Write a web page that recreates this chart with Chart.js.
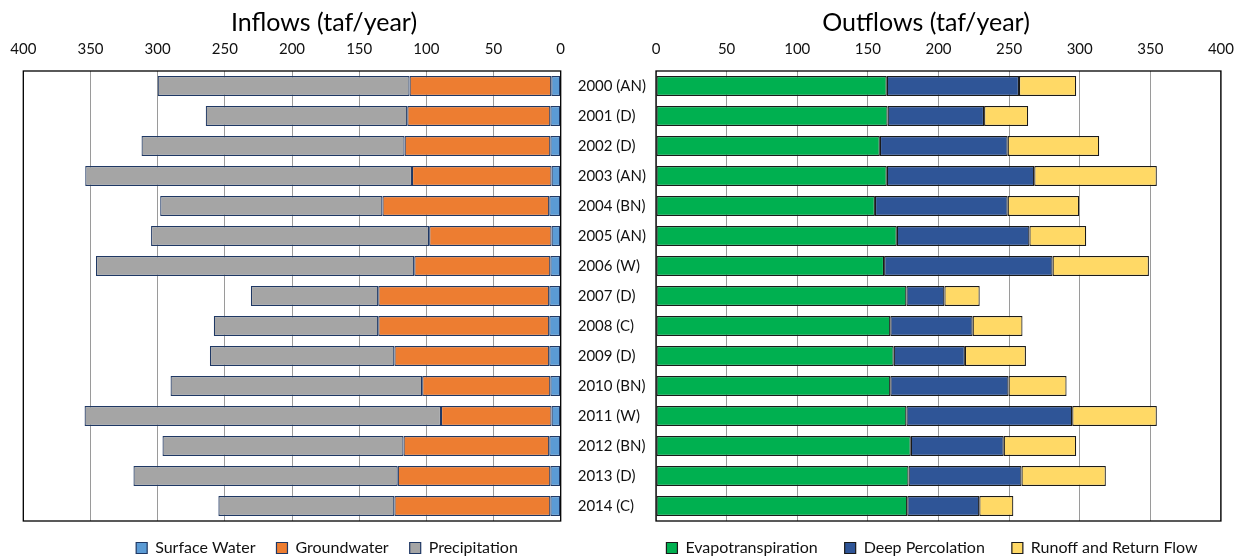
<!DOCTYPE html>
<html>
<head>
<meta charset="utf-8">
<script src="https://cdn.jsdelivr.net/npm/chart.js@4.4.1/dist/chart.umd.min.js"></script>
<style>
  html, body { margin: 0; padding: 0; background: #fff; }
  #wrap { position: relative; width: 1247px; height: 560px; }
  canvas { position: absolute; top: 0; }
  #inflows { left: 0; }
  #outflows { left: 600px; }
</style>
</head>
<body>
<div id="wrap">
  <canvas id="inflows" width="650" height="560"></canvas>
  <canvas id="outflows" width="647" height="560"></canvas>
</div>
<script>
const years = ['2000 (AN)', '2001 (D)', '2002 (D)', '2003 (AN)', '2004 (BN)', '2005 (AN)', '2006 (W)',
    '2007 (D)', '2008 (C)', '2009 (D)', '2010 (BN)', '2011 (W)', '2012 (BN)', '2013 (D)', '2014 (C)'];
const tickValues = [0, 50, 100, 150, 200, 250, 300, 350, 400];

// inflows, taf/year
const surfaceWater = [7.0, 7.7, 7.7, 6.8, 8.5, 6.8, 7.7, 8.5, 8.5, 8.5, 7.7, 6.8, 8.5, 7.7, 7.7];
const groundwater = [105.5, 106.5, 108.5, 103.9, 124.2, 91.1, 101.3, 127.3, 127.3, 115.3, 95.4, 82.3, 108.5, 113.6, 116.1];
const precipitation = [187.5, 150.0, 195.8, 243.2, 165.4, 207.0, 236.9, 94.8, 122.4, 137.3, 187.3, 265.3, 179.4, 196.7, 131.0];

// outflows, taf/year
const evapotranspiration = [163.4, 164.0, 158.5, 163.4, 155.0, 170.5, 161.5, 177.3, 165.9, 168.3, 165.9, 177.3, 180.4, 178.8, 177.9];
const deepPercolation = [93.6, 68.3, 90.5, 104.4, 94.0, 93.9, 119.3, 26.9, 58.3, 50.4, 83.7, 117.4, 65.8, 80.0, 51.0];
const runoffReturn = [40.5, 31.2, 64.8, 86.8, 50.6, 40.2, 68.2, 25.0, 35.3, 43.2, 41.1, 59.9, 51.3, 59.7, 24.1];

Chart.defaults.font.family = 'Lato';
Chart.defaults.color = '#111';

// black box round the plot area
const framePlugin = {
    id: 'frame',
    afterDatasetsDraw(chart) {
        const { ctx, chartArea: a } = chart;
        ctx.save();
        ctx.strokeStyle = '#000';
        ctx.lineWidth = 1.3;
        ctx.strokeRect(a.left, a.top, a.right - a.left, a.bottom - a.top);
        ctx.restore();
    }
};

// move title / legend to where the excel chart has them
const nudgePlugin = {
    id: 'nudge',
    afterInit(chart) {
        const lg = chart.legend;
        const fit = lg.fit;
        lg.fit = function () { this.maxWidth = 640; fit.call(this); this.height = 39; };
    },
    afterLayout(chart, args, opts) {
        const t = chart.titleBlock, lg = chart.legend;
        t.left = opts.title - 300; t.right = opts.title + 300;
        lg.left = opts.legend - 320; lg.right = opts.legend + 320;
        lg.top = opts.legendTop;
    }
};

function bar(label, data, color, border) {
    return {
        label, data,
        backgroundColor: color,
        borderColor: border,
        borderWidth: 1.2,
        borderSkipped: false,
        barPercentage: 0.67,
        categoryPercentage: 1.0
    };
}

function makeChart(canvasId, title, datasets, opts) {
    const ctx = document.getElementById(canvasId);
    return new Chart(ctx, {
        type: 'bar',
        data: { labels: years, datasets },
        plugins: [framePlugin, nudgePlugin],
        options: {
            indexAxis: 'y',
            responsive: false,
            animation: false,
            layout: { padding: opts.padding },
            scales: {
                x: {
                    position: 'top',
                    stacked: true,
                    reverse: opts.reverse,
                    min: 0,
                    max: 400,
                    afterBuildTicks: s => { s.ticks = tickValues.map(v => ({ value: v })); },
                    afterFit: s => { s.height = 33; },
                    grid: { color: '#9a9a9a', lineWidth: 1, drawTicks: false },
                    border: { display: false },
                    ticks: { font: { size: 15 }, padding: 13, maxRotation: 0 }
                },
                y: {
                    display: opts.showYears,
                    position: 'right',
                    stacked: true,
                    afterFit: s => { s.width = opts.showYears ? 89.3 : 0; },
                    grid: { display: false, drawTicks: false },
                    border: { display: false },
                    ticks: { font: { size: 15 }, padding: 17, crossAlign: 'near' }
                }
            },
            plugins: {
                title: {
                    display: true,
                    text: title,
                    font: { size: 25, weight: 'normal' },
                    color: '#000',
                    padding: { top: 8, bottom: 0 }
                },
                legend: {
                    position: 'bottom',
                    labels: {
                        font: { size: 16 },
                        boxWidth: 11,
                        boxHeight: 11,
                        padding: opts.legendGap
                    }
                },
                tooltip: { enabled: false },
                nudge: opts.nudge
            }
        }
    });
}

makeChart('inflows', 'Inflows (taf/year)', [
    bar('Surface Water', surfaceWater, '#5B9BD5', '#1F3864'),
    bar('Groundwater', groundwater, '#ED7D31', '#1F3864'),
    bar('Precipitation', precipitation, '#A5A5A5', '#1F3864')
], {
    reverse: true,
    showYears: true,
    legendGap: 21,
    padding: { left: 23.3, right: 0, top: 0, bottom: 0 },
    nudge: { title: 324, legend: 327, legendTop: 519 }
});

makeChart('outflows', 'Outflows (taf/year)', [
    bar('Evapotranspiration', evapotranspiration, '#00B050', '#1a1a1a'),
    bar('Deep Percolation', deepPercolation, '#2F5597', '#1a1a1a'),
    bar('Runoff and Return Flow', runoffReturn, '#FFD966', '#1a1a1a')
], {
    reverse: false,
    showYears: false,
    legendGap: 27,
    padding: { left: 56, right: 23.7, top: 0, bottom: 0 },
    nudge: { title: 326, legend: 332, legendTop: 513 }
});
</script>
</body>
</html>
